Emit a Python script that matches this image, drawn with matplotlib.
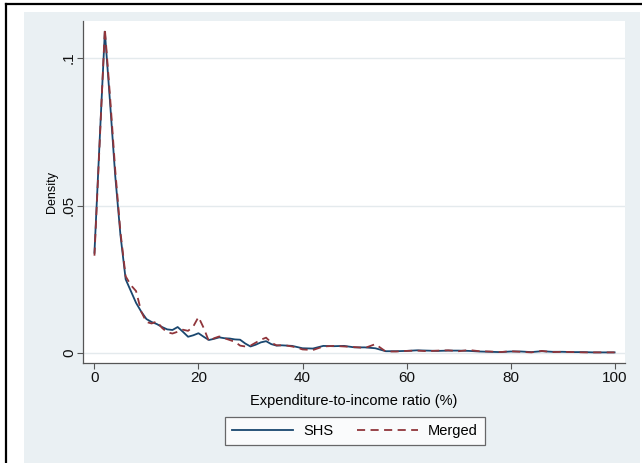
import numpy as np
import matplotlib
matplotlib.use("Agg")
import matplotlib.pyplot as plt
from matplotlib.patches import Rectangle
from matplotlib.lines import Line2D

plt.rcParams['font.family'] = ['Liberation Sans', 'DejaVu Sans']

# expenditure-to-income ratio (%) grid and density estimates
ratio = [0, 1, 2, 3, 4, 5, 6, 7, 8, 9, 10, 11, 12, 13, 14, 15, 16, 17, 18, 19,
         20, 21, 22, 23, 24, 25, 26, 27, 28, 29, 30, 31, 32, 33, 34, 35, 36, 37,
         38, 39, 40, 42, 44, 46, 48, 50, 52, 54, 56, 58, 60, 62, 64, 66, 68, 70,
         72, 74, 76, 78, 80, 82, 84, 86, 88, 90, 92, 94, 96, 98, 100]

shs = [0.034, 0.072, 0.109, 0.085, 0.060, 0.040, 0.025, 0.021, 0.017, 0.014,
       0.0115, 0.0105, 0.0098, 0.0088, 0.0080, 0.0078, 0.0088, 0.0072, 0.0055,
       0.0060, 0.0067, 0.0055, 0.0044, 0.0048, 0.0053, 0.0050, 0.0049, 0.0046,
       0.0045, 0.0032, 0.0022, 0.0028, 0.0036, 0.0040, 0.0030, 0.0025, 0.0026,
       0.0025, 0.0024, 0.0020, 0.0016, 0.0015, 0.0024, 0.0023, 0.0024, 0.0019,
       0.0019, 0.0016, 0.0006, 0.0006, 0.0007, 0.0009, 0.0008, 0.0007, 0.0008,
       0.0008, 0.0007, 0.0005, 0.0004, 0.0003, 0.0005, 0.0005, 0.0003, 0.0006,
       0.0004, 0.0004, 0.0003, 0.0003, 0.0002, 0.0002, 0.0002]

merged = [0.033, 0.071, 0.110, 0.087, 0.062, 0.041, 0.026, 0.023, 0.021, 0.014,
          0.0105, 0.0100, 0.0107, 0.0085, 0.0070, 0.0066, 0.0072, 0.0079, 0.0075,
          0.0090, 0.0122, 0.0085, 0.0040, 0.0050, 0.0056, 0.0050, 0.0044, 0.0038,
          0.0025, 0.0022, 0.0025, 0.0035, 0.0045, 0.0052, 0.0035, 0.0026, 0.0026,
          0.0025, 0.0022, 0.0018, 0.0012, 0.0010, 0.0022, 0.0024, 0.0022, 0.0020,
          0.0017, 0.0030, 0.0005, 0.0005, 0.0007, 0.0008, 0.0006, 0.0008, 0.0009,
          0.0006, 0.0010, 0.0006, 0.0005, 0.0003, 0.0006, 0.0004, 0.0002, 0.0007,
          0.0003, 0.0004, 0.0003, 0.0002, 0.0002, 0.0002, 0.0002]

x_ticks = [0, 20, 40, 60, 80, 100]
y_ticks = [0, 0.05, 0.1]
y_ticklabels = ['0', '.05', '.1']

W, H = 642, 463
fig = plt.figure(figsize=(W / 100, H / 100), dpi=100)
fig.patch.set_facecolor('white')

# graph region background and the cell outline around it
fig.add_artist(Rectangle((24 / W, 0), (640 - 24) / W, (H - 12) / H,
                         transform=fig.transFigure, facecolor='#eaf0f3',
                         edgecolor='none', zorder=-2))
fig.add_artist(Line2D([6 / W, 6 / W], [0, 1 - 4 / H], transform=fig.transFigure,
                      color='black', lw=1.6, zorder=-1))
fig.add_artist(Line2D([6 / W, 1], [1 - 4 / H, 1 - 4 / H], transform=fig.transFigure,
                      color='black', lw=1.6, zorder=-1))

ax = fig.add_axes([83 / W, 1 - 363 / H, (625 - 83) / W, (363 - 21) / H])
ax.set_zorder(1)
ax.set_facecolor('white')

ax.plot(ratio, shs, color='#1a476f', lw=1.3, label='SHS', zorder=3)
ax.plot(ratio, merged, color='#90353b', lw=1.3, ls=(0, (4.5, 3)), label='Merged', zorder=4)

ax.set_xlim(-2.2, 102.0)
ax.set_ylim(-0.0034, 0.1126)
ax.set_xticks(x_ticks)
ax.set_yticks(y_ticks)
ax.set_yticklabels(y_ticklabels, rotation=90, va='center')
ax.grid(axis='y', color='#e4eaed', lw=1.0)
ax.set_axisbelow(True)

for side in ('top', 'right'):
    ax.spines[side].set_visible(False)
for side in ('left', 'bottom'):
    ax.spines[side].set_color('#555555')
    ax.spines[side].set_linewidth(0.9)
ax.tick_params(axis='both', direction='out', length=4, width=0.8, color='#555555',
               labelsize=11, labelcolor='#111111')
ax.tick_params(axis='x', pad=2)
ax.tick_params(axis='y', pad=1)

ax.set_xlabel('Expenditure-to-income ratio (%)', fontsize=10.5, labelpad=6)
ax.set_ylabel('Density', fontsize=9, labelpad=3)

leg = fig.legend(loc='center', bbox_to_anchor=(355 / W, 1 - 431 / H), ncol=2,
                 fontsize=10.5, frameon=True, fancybox=False, edgecolor='#444444',
                 handlelength=4.2, handletextpad=0.7, columnspacing=1.6,
                 borderpad=0.45)
leg.get_frame().set_linewidth(0.9)

fig.savefig('out.png', dpi=100, facecolor=fig.get_facecolor())
